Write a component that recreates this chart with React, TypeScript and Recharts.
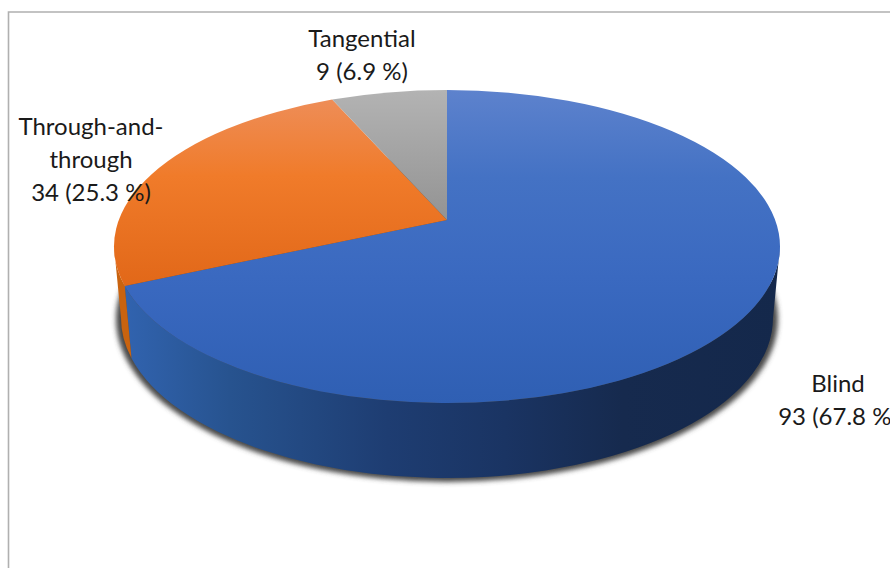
import * as React from "react";
import { Pie, PieChart } from "recharts";

const sliceNames = ["Blind", "Through-and-through", "Tangential"];
const sliceCounts = [93, 34, 9];
const slicePercents = [67.8, 25.3, 6.9];
const labelNameLines = [["Blind"], ["Through-and-", "through"], ["Tangential"]];

const faceFills = ["url(#faceBlue)", "url(#faceOrange)", "url(#faceGrey)"];
const rimFills = ["url(#rimBlue)", "#c9630f", "#7f7f7f"];
const labelCenters = [
  { x: 838, y: 382 },
  { x: 91, y: 125 },
  { x: 362, y: 37 },
];

const WIDTH = 890;
const HEIGHT = 568;
const LINE_HEIGHT = 33;

// Tilted disc: the top face and the base are ellipses, the base a little
// narrower because it sits further from the viewer.
const APEX = { x: 447, y: 220 };
const TOP = { cy: 246.5, rx: 333, ry: 156.5 };
const BASE = { cy: 318, rx: 326, ry: 160 };

const rows = sliceNames.map((name, i) => ({
  name,
  value: sliceCounts[i],
  fill: faceFills[i],
  rim: rimFills[i],
}));

// Pie angle -> ellipse parameter (radians, clockwise from east, range -90deg..270deg).
// The projective shift moves the circle's centre up to the apex of the face.
function rimParam(angle: number) {
  const k = (TOP.cy - APEX.y) / TOP.ry;
  const phi = ((90 - angle) * Math.PI) / 180;
  const x = Math.sin(phi);
  const y = -Math.cos(phi);
  const d = 1 - k * y;
  const t = Math.atan2((y - k) / d, (x * Math.sqrt(1 - k * k)) / d);
  return t < -Math.PI / 2 ? t + 2 * Math.PI : t;
}

const onEllipse = (e: typeof TOP, t: number) => ({
  x: APEX.x + e.rx * Math.cos(t),
  y: e.cy + e.ry * Math.sin(t),
});

function DiscSlice(props: any) {
  const from = rimParam(props.startAngle);
  let to = rimParam(props.endAngle);
  if (to <= from) to += 2 * Math.PI;

  const a = onEllipse(TOP, from);
  const b = onEllipse(TOP, to);
  const large = to - from > Math.PI ? 1 : 0;
  const face = `M${props.cx} ${props.cy}L${a.x} ${a.y}A${TOP.rx} ${TOP.ry} 0 ${large} 1 ${b.x} ${b.y}Z`;

  // only the front half of the rim is visible
  const r0 = Math.max(from, 0);
  const r1 = Math.min(to, Math.PI);
  let rim = null;
  if (r1 > r0) {
    const t0 = onEllipse(TOP, r0);
    const t1 = onEllipse(TOP, r1);
    const b0 = onEllipse(BASE, r0);
    const b1 = onEllipse(BASE, r1);
    const big = r1 - r0 > Math.PI ? 1 : 0;
    rim = (
      <path
        d={`M${t0.x} ${t0.y}A${TOP.rx} ${TOP.ry} 0 ${big} 1 ${t1.x} ${t1.y}L${b1.x} ${b1.y}A${BASE.rx} ${BASE.ry} 0 ${big} 0 ${b0.x} ${b0.y}Z`}
        fill={props.rim}
      />
    );
  }

  return (
    <g>
      {rim}
      <path d={face} fill={props.fill} />
    </g>
  );
}

function SliceLabel(props: any) {
  const i = props.index;
  const lines = [...labelNameLines[i], `${sliceCounts[i]} (${slicePercents[i]} %)`];
  const c = labelCenters[i];
  return (
    <text
      x={c.x}
      y={c.y}
      textAnchor="middle"
      dominantBaseline="central"
      fontFamily="Lato, 'Open Sans', sans-serif"
      fontSize={24}
      fill="#1a1a1a"
    >
      {lines.map((line, n) => (
        <tspan key={n} x={c.x} y={c.y + n * LINE_HEIGHT}>
          {line}
        </tspan>
      ))}
    </text>
  );
}

export default function App() {
  return (
    <div style={{ position: "absolute", left: 0, top: 0, width: WIDTH, height: HEIGHT, overflow: "hidden" }}>
      <PieChart width={WIDTH} height={HEIGHT} margin={{ top: 0, right: 0, bottom: 0, left: 0 }}>
        <defs>
          <linearGradient id="faceBlue" gradientUnits="userSpaceOnUse" x1="0" y1="90" x2="0" y2="403">
            <stop offset="0%" stopColor="#5d82cd" />
            <stop offset="28%" stopColor="#4472c4" />
            <stop offset="60%" stopColor="#3a69c0" />
            <stop offset="100%" stopColor="#2f5fb3" />
          </linearGradient>
          <linearGradient id="faceOrange" gradientUnits="userSpaceOnUse" x1="0" y1="100" x2="0" y2="290">
            <stop offset="0%" stopColor="#ee8d57" />
            <stop offset="40%" stopColor="#f07b2a" />
            <stop offset="100%" stopColor="#e16718" />
          </linearGradient>
          <linearGradient id="faceGrey" gradientUnits="userSpaceOnUse" x1="0" y1="90" x2="0" y2="220">
            <stop offset="0%" stopColor="#b3b3b3" />
            <stop offset="100%" stopColor="#939393" />
          </linearGradient>
          <linearGradient id="rimBlue" gradientUnits="userSpaceOnUse" x1="125" y1="0" x2="780" y2="0">
            <stop offset="0%" stopColor="#3163af" />
            <stop offset="16%" stopColor="#27538f" />
            <stop offset="40%" stopColor="#1e3d72" />
            <stop offset="58%" stopColor="#1a3463" />
            <stop offset="76%" stopColor="#162a4e" />
            <stop offset="100%" stopColor="#14284b" />
          </linearGradient>
          <filter id="discShadow" x="-5%" y="-5%" width="110%" height="110%">
            <feGaussianBlur stdDeviation="2.4" />
          </filter>
        </defs>
        <path d={`M8.5 ${HEIGHT}V12H${WIDTH}`} fill="none" stroke="#b0b0b0" strokeWidth={1.6} />
        <ellipse cx={APEX.x} cy={BASE.cy + 1} rx={331} ry={163} fill="#4a4a4a" filter="url(#discShadow)" />
        <Pie
          data={rows}
          dataKey="value"
          nameKey="name"
          cx={APEX.x}
          cy={APEX.y}
          outerRadius={TOP.rx}
          startAngle={90}
          endAngle={-270}
          stroke="none"
          shape={DiscSlice}
          label={SliceLabel}
          labelLine={false}
          isAnimationActive={false}
        />
      </PieChart>
    </div>
  );
}
